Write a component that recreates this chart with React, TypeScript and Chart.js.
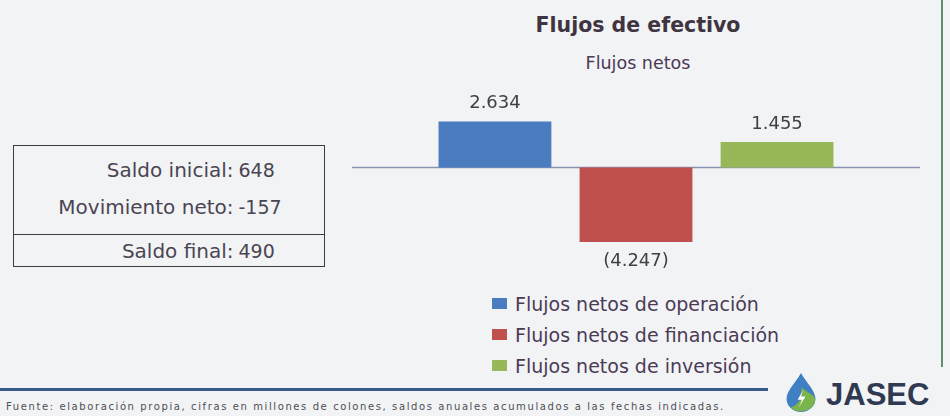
import React, { useEffect, useRef } from "react";
import { Chart, registerables } from "chart.js";

Chart.register(...registerables);

const SERIES = [
  "Flujos netos de operación",
  "Flujos netos de financiación",
  "Flujos netos de inversión",
];
const VALUES = [2634, -4247, 1455];
const COLORS = ["#4a7cbf", "#c0504d", "#97b758"];
const CATEGORIES = [""];
const Y_MIN = -6700;
const Y_MAX = 5000;

const BOX_LABELS = ["Saldo inicial:", "Movimiento neto:", "Saldo final:"];
const BOX_VALUES = ["648", "-157", "490"];

const FONT = "'DejaVu Sans', sans-serif";

function fmt(v: number): string {
  const s = Math.abs(v).toString().replace(/\B(?=(\d{3})+(?!\d))/g, ".");
  return v < 0 ? `(${s})` : s;
}

const zeroLine = {
  id: "zeroLine",
  beforeDatasetsDraw(chart: any) {
    const { ctx, chartArea, scales } = chart;
    const y = scales.y.getPixelForValue(0);
    ctx.save();
    ctx.strokeStyle = "#8a93b2";
    ctx.lineWidth = 1.5;
    ctx.beginPath();
    ctx.moveTo(chartArea.left, y);
    ctx.lineTo(chartArea.right, y);
    ctx.stroke();
    ctx.restore();
  },
};

const dataLabels = {
  id: "dataLabels",
  afterDatasetsDraw(chart: any) {
    const { ctx } = chart;
    ctx.save();
    ctx.font = `18px ${FONT}`;
    ctx.fillStyle = "#404048";
    ctx.textAlign = "center";
    ctx.textBaseline = "middle";
    chart.data.datasets.forEach((ds: any, i: number) => {
      const meta = chart.getDatasetMeta(i);
      meta.data.forEach((bar: any, j: number) => {
        const v = ds.data[j];
        const y = v >= 0 ? bar.y - 18 : bar.y + 19;
        ctx.fillText(fmt(v), bar.x, y);
      });
    });
    ctx.restore();
  },
};

export default function App() {
  const ref = useRef<HTMLCanvasElement>(null);

  useEffect(() => {
    if (!ref.current) return;
    const chart = new Chart(ref.current, {
      type: "bar",
      data: {
        labels: CATEGORIES,
        datasets: SERIES.map((name, i) => ({
          label: name,
          data: [VALUES[i]],
          backgroundColor: COLORS[i],
          borderWidth: 0,
          categoryPercentage: 0.745,
          barPercentage: 0.8,
        })),
      },
      options: {
        animation: false,
        responsive: false,
        maintainAspectRatio: false,
        devicePixelRatio: 1,
        layout: { padding: 0 },
        scales: {
          x: { display: false },
          y: { display: false, min: Y_MIN, max: Y_MAX },
        },
        plugins: {
          legend: { display: false },
          tooltip: { enabled: false },
          title: { display: false },
        },
      },
      plugins: [zeroLine, dataLabels],
    });
    return () => chart.destroy();
  }, []);

  const abs = (o: React.CSSProperties): React.CSSProperties => ({ position: "absolute", ...o });

  return (
    <div
      style={{
        position: "fixed",
        left: 0,
        top: 0,
        width: 950,
        height: 416,
        background: "#f2f3f5",
        overflow: "hidden",
        fontFamily: FONT,
      }}
    >
      <div
        style={abs({
          left: 352,
          top: 12,
          width: 572,
          textAlign: "center",
          fontWeight: "bold",
          fontSize: 20.5,
          lineHeight: "26px",
          color: "#3e3540",
        })}
      >
        Flujos de efectivo
      </div>
      <div
        style={abs({
          left: 352,
          top: 51,
          width: 572,
          textAlign: "center",
          fontSize: 17.5,
          lineHeight: "24px",
          color: "#4a3a55",
        })}
      >
        Flujos netos
      </div>

      <canvas
        ref={ref}
        width={568}
        height={205}
        style={abs({ left: 352, top: 80, width: 568, height: 205 })}
      />

      <div style={abs({ left: 492, top: 288 })}>
        {SERIES.map((name, i) => (
          <div
            key={name}
            style={{ display: "flex", alignItems: "center", height: 31 }}
          >
            <span
              style={{
                display: "inline-block",
                width: 15,
                height: 11,
                background: COLORS[i],
                marginRight: 8,
              }}
            />
            <span style={{ fontSize: 19, color: "#4b3b55", whiteSpace: "nowrap" }}>{name}</span>
          </div>
        ))}
      </div>

      <div
        style={abs({
          left: 13,
          top: 145,
          width: 312,
          height: 122,
          border: "1.5px solid #3c3c40",
          boxSizing: "border-box",
          color: "#4a4552",
        })}
      >
        {BOX_LABELS.map((lab, i) => (
          <div
            key={lab}
            style={abs({
              left: 0,
              top: i === 0 ? 11 : i === 1 ? 48 : 92,
              width: 309,
              height: 26,
              lineHeight: "26px",
            })}
          >
            <span
              style={abs({
                left: 0,
                width: 219.5,
                textAlign: "right",
                fontSize: 20,
                whiteSpace: "nowrap",
              })}
            >
              {lab}
            </span>
            <span style={abs({ left: 224.5, fontSize: 19, whiteSpace: "nowrap" })}>
              {BOX_VALUES[i]}
            </span>
          </div>
        ))}
        <div
          style={abs({ left: 0, top: 87.5, width: "100%", borderTop: "1.5px solid #3c3c40" })}
        />
      </div>

      <div style={abs({ left: 941, top: 0, width: 2, height: 367, background: "#5f8f6e" })} />

      <div style={abs({ left: 0, top: 388, width: 768, height: 2.5, background: "#3a5a8c" })} />

      <div
        style={abs({
          left: 6,
          top: 400,
          fontSize: 10,
          letterSpacing: 1.6,
          color: "#4e4e55",
          whiteSpace: "nowrap",
          lineHeight: "14px",
        })}
      >
        Fuente: elaboración propia, cifras en millones de colones, saldos anuales acumulados a las fechas indicadas.
      </div>

      <svg style={abs({ left: 784, top: 372, width: 34, height: 40 })} viewBox="0 0 30 36">
        <path d="M15 1 C20 10 28 17 28 24 A13 12 0 0 1 2 24 C2 17 10 10 15 1 Z" fill="#3f7fc4" />
        <path d="M15 14 C20 18 26 20 28 24 A13 12 0 0 1 6 32 C12 30 17 24 15 14 Z" fill="#7bb44a" />
        <path d="M17 16 L12 25 L16 25 L13 32 L19 22 L15 22 Z" fill="#ffffff" />
      </svg>
      <div
        style={abs({
          left: 826,
          top: 377.5,
          fontFamily: "'Liberation Sans', Arial, sans-serif",
          fontWeight: "bold",
          fontSize: 31,
          lineHeight: "34px",
          color: "#2f3a52",
          whiteSpace: "nowrap",
        })}
      >
        JASEC
      </div>
    </div>
  );
}
